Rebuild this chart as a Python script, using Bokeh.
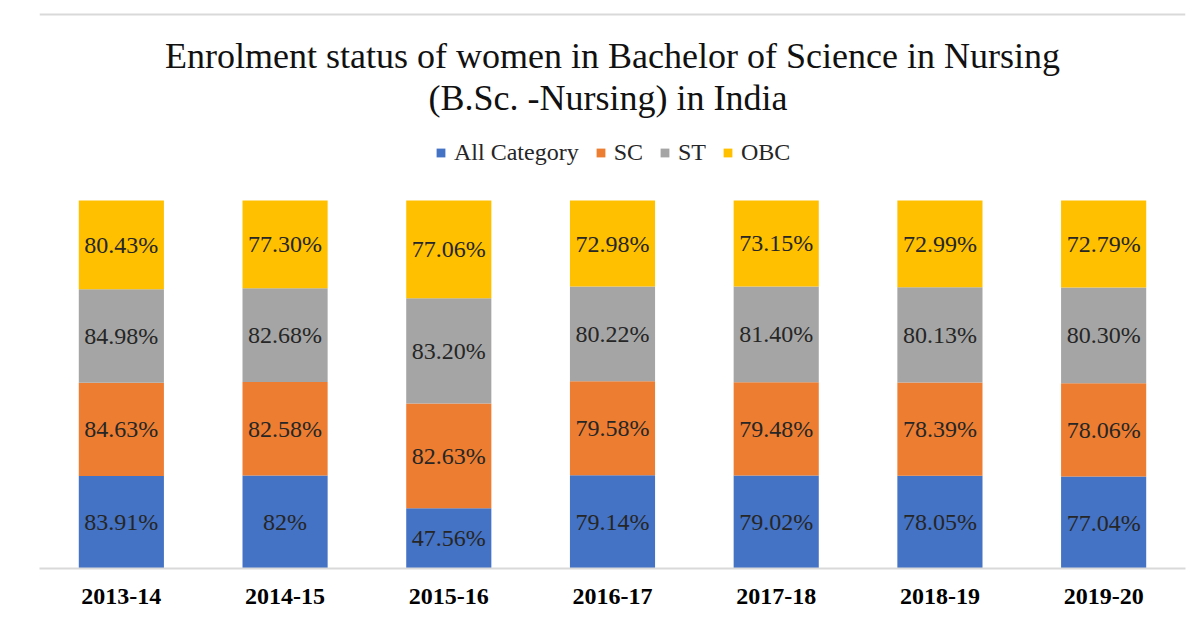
from bokeh.plotting import figure
from bokeh.models import ColumnDataSource, FactorRange, Range1d, Label, Legend, LegendItem, LabelSet, Span
from bokeh.embed import file_html
from bokeh.resources import INLINE

years = ["2013-14", "2014-15", "2015-16", "2016-17", "2017-18", "2018-19", "2019-20"]
all_category = [83.91, 82, 47.56, 79.14, 79.02, 78.05, 77.04]
sc = [84.63, 82.58, 82.63, 79.58, 79.48, 78.39, 78.06]
st = [84.98, 82.68, 83.20, 80.22, 81.40, 80.13, 80.30]
obc = [80.43, 77.30, 77.06, 72.98, 73.15, 72.99, 72.79]
series_names = ["All Category", "SC", "ST", "OBC"]
colors = ["#4472C4", "#ED7D31", "#A5A5A5", "#FFC000"]

series = [all_category, sc, st, obc]
keys = ["all", "sc", "st", "obc"]
totals = [sum(v) for v in zip(*series)]


def fmt(v):
    return f"{int(v)}%" if float(v).is_integer() else f"{v:.2f}%"


data = {"year": years}
for k, s in zip(keys, series):
    data[k] = [v / t for v, t in zip(s, totals)]
source = ColumnDataSource(data)

lx, ly, lt = [], [], []
for i, yr in enumerate(years):
    cum = 0.0
    for s in series:
        frac = s[i] / totals[i]
        lx.append(yr)
        ly.append(cum + frac / 2)
        lt.append(fmt(s[i]))
        cum += frac
label_source = ColumnDataSource(dict(x=lx, y=ly, text=lt))

SERIF = "Liberation Serif"

# frame spans from the top of the canvas down to the baseline (568 px); 100% = 368 px
FRAME_H = 568.0
UNIT = 368.0
def ypix(py):
    return (FRAME_H - py) / UNIT

p = figure(x_range=FactorRange(*years), y_range=Range1d(0, FRAME_H / UNIT), width=1196, height=616,
           output_backend="svg", toolbar_location=None, y_axis_location=None,
           min_border_left=39, min_border_right=11, min_border_top=0, min_border_bottom=48)
p.outline_line_color = None
p.background_fill_color = "white"
p.border_fill_color = "white"
p.xgrid.grid_line_color = None
p.ygrid.grid_line_color = None

renderers = p.vbar_stack(keys, x="year", width=0.52, fill_color=colors, line_color=None, source=source)

labels = LabelSet(x="x", y="y", text="text", source=label_source, text_align="center",
                  text_baseline="middle", text_font_size="24px", text_color="#262626")
labels.text_font = SERIF
p.add_layout(labels)

p.xaxis.axis_line_color = "#d9d9d9"
p.xaxis.axis_line_width = 2
p.xaxis.major_tick_line_color = None
p.xaxis.minor_tick_line_color = None
p.xaxis.major_tick_in = 0
p.xaxis.major_tick_out = 0
p.xaxis.major_label_standoff = 20
p.xaxis.major_label_text_font = SERIF
p.xaxis.major_label_text_font_size = "24px"
p.xaxis.major_label_text_font_style = "bold"
p.xaxis.major_label_text_color = "black"

for txt, py in [("Enrolment status of women in Bachelor of Science in Nursing", 55),
                ("(B.Sc. -Nursing)  in India", 97)]:
    p.add_layout(Label(x=3.5, y=ypix(py), text=txt, text_align="center", text_baseline="middle",
                       text_font=SERIF, text_font_size="36px", text_color="#111111"))

legend = Legend(items=[LegendItem(label=n, renderers=[r]) for n, r in zip(series_names, renderers)],
                orientation="horizontal", location=(396, 568 - 153 - 13),
                label_text_font=SERIF, label_text_font_size="24px", label_text_color="#262626",
                glyph_width=11, glyph_height=11, spacing=16, label_standoff=8,
                padding=0, margin=0, border_line_color=None, background_fill_alpha=0)
p.add_layout(legend)

p.add_layout(Span(location=ypix(14), dimension="width", line_color="#d9d9d9", line_width=2))

open("out.html", "w").write(file_html(p, INLINE))
